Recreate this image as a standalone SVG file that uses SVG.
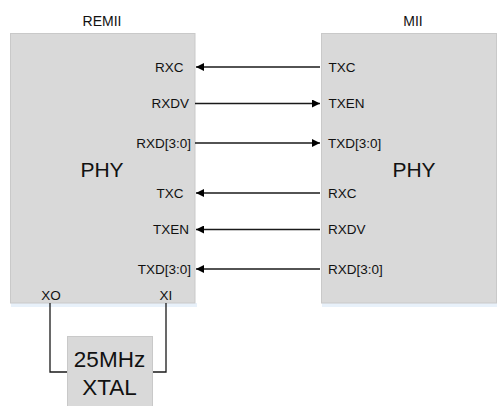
<svg xmlns="http://www.w3.org/2000/svg" width="497" height="406" viewBox="0 0 497 406">
<defs>
<style>
.box{fill:#d9d9d9;stroke:#c9c9c9;stroke-width:1}
.shadow{fill:#e8f1fa}
.t{font-family:"Liberation Sans",Arial,sans-serif;fill:#111}
.lbl{font-size:13.5px}
.ttl{font-size:14px}
.big{font-size:21px}
.xt{font-size:22.5px}
.ln{stroke:#1a1a1a;stroke-width:1.3;fill:none}
</style>
<marker id="ah" viewBox="0 0 10 10" refX="10" refY="5" markerWidth="9" markerHeight="8" markerUnits="userSpaceOnUse" orient="auto">
<path d="M0,0 L10,5 L0,10 z" fill="#000"/>
</marker>
</defs>
<rect width="497" height="406" fill="#fff"/>
<g id="remii">
<rect class="shadow" x="11" y="303" width="186" height="4"/>
<rect class="box" x="10.5" y="33.5" width="184.5" height="269.5"/>
<text class="t ttl" x="102" y="26" text-anchor="middle">REMII</text>
<text class="t big" x="102" y="177" text-anchor="middle">PHY</text>
<text class="t lbl" x="183.5" y="71.5" text-anchor="end">RXC</text>
<text class="t lbl" x="189" y="108" text-anchor="end">RXDV</text>
<text class="t lbl" x="191" y="147.5" text-anchor="end">RXD[3:0]</text>
<text class="t lbl" x="183.5" y="197.5" text-anchor="end">TXC</text>
<text class="t lbl" x="189" y="234" text-anchor="end">TXEN</text>
<text class="t lbl" x="191" y="273.5" text-anchor="end">TXD[3:0]</text>
<text class="t lbl" x="51" y="300" text-anchor="middle">XO</text>
<text class="t lbl" x="166" y="300" text-anchor="middle">XI</text>
</g>
<g id="mii">
<rect class="shadow" x="322" y="303" width="175" height="4"/>
<rect class="box" x="321.5" y="33.5" width="175" height="269.5"/>
<text class="t ttl" x="413" y="26" text-anchor="middle">MII</text>
<text class="t big" x="414" y="177" text-anchor="middle">PHY</text>
<text class="t lbl" x="328.5" y="71.5">TXC</text>
<text class="t lbl" x="328.5" y="108">TXEN</text>
<text class="t lbl" x="328" y="147.5">TXD[3:0]</text>
<text class="t lbl" x="328" y="197.5">RXC</text>
<text class="t lbl" x="328" y="234">RXDV</text>
<text class="t lbl" x="328" y="273.5">RXD[3:0]</text>
</g>
<g id="xtal">
<rect class="box" x="67.5" y="336.5" width="85" height="72"/>
<text class="t xt" x="109.5" y="367" text-anchor="middle">25MHz</text>
<text class="t xt" x="109.5" y="395" text-anchor="middle">XTAL</text>
</g>
<g id="connectors">
<line class="ln" x1="320" y1="67" x2="196" y2="67" marker-end="url(#ah)"/>
<line class="ln" x1="195" y1="103.5" x2="320" y2="103.5" marker-end="url(#ah)"/>
<line class="ln" x1="195" y1="143" x2="320" y2="143" marker-end="url(#ah)"/>
<line class="ln" x1="320" y1="193" x2="196" y2="193" marker-end="url(#ah)"/>
<line class="ln" x1="320" y1="229.5" x2="196" y2="229.5" marker-end="url(#ah)"/>
<line class="ln" x1="320" y1="269" x2="196" y2="269" marker-end="url(#ah)"/>
<polyline class="ln" points="50,303 50,372 67,372"/>
<polyline class="ln" points="166,303 166,372 153,372"/>
</g>
</svg>
